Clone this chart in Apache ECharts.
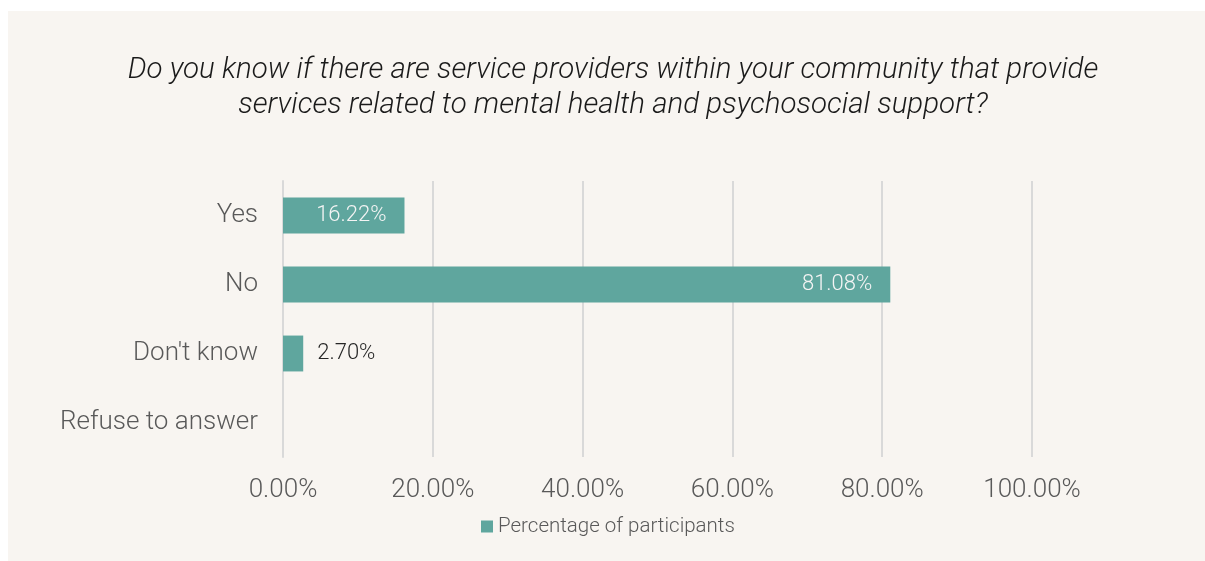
<!DOCTYPE html>
<html>
<head>
<meta charset="utf-8">
<script src="https://cdn.jsdelivr.net/npm/echarts@6/dist/echarts.min.js"></script>
<style>
  html, body { margin: 0; padding: 0; background: #ffffff; }
  #chart { width: 1205px; height: 561px; }
</style>
</head>
<body>
<div id="chart"></div>
<script>
// Survey answers and their share of participants (%)
const categories = ['Yes', 'No', "Don't know", 'Refuse to answer'];
const percentages = [16.22, 81.08, 2.70, 0];
const seriesName = 'Percentage of participants';
const titleLines = [
  'Do you know if there are service providers within your community that provide',
  'services related to mental health and psychosocial support?'
];

const BAR = '#5fa69e';
const FONT = 'Roboto, "Liberation Sans", sans-serif';

// Long bars carry their label inside in light text, short ones outside in dark text
const barData = percentages.map(v => ({
  value: v,
  label: v >= 10
    ? { show: true, position: 'insideRight', distance: 18, color: '#f4f4f4' }
    : { show: v > 0, position: 'right', distance: 14, color: '#262626' }
}));

const chart = echarts.init(document.getElementById('chart'), null, { renderer: 'canvas' });

chart.setOption({
  backgroundColor: '#ffffff',
  animation: false,
  graphic: [{
    type: 'rect',
    z: -10,
    silent: true,
    shape: { x: 8, y: 11, width: 1197, height: 550 },
    style: { fill: '#f8f5f1' }
  }],
  title: {
    text: titleLines.join('\n'),
    left: 608,
    top: 48,
    textAlign: 'center',
    textStyle: {
      fontFamily: FONT,
      fontStyle: 'italic',
      fontWeight: 300,
      fontSize: 29.5,
      lineHeight: 35,
      color: '#1a1a1a'
    }
  },
  legend: {
    bottom: 19,
    left: 476,
    icon: 'rect',
    itemWidth: 12,
    itemHeight: 12,
    textStyle: { fontFamily: FONT, fontWeight: 300, fontSize: 20.5, color: '#595959' },
    data: [seriesName]
  },
  grid: { left: 283, right: 173, top: 181, bottom: 104, containLabel: false },
  xAxis: {
    type: 'value',
    min: 0,
    max: 100,
    interval: 20,
    axisLine: { show: false },
    axisTick: { show: false },
    splitLine: { show: true, lineStyle: { color: '#d9d9d9', width: 2 } },
    axisLabel: {
      margin: 20,
      fontFamily: FONT,
      fontWeight: 300,
      fontSize: 26,
      color: '#595959',
      formatter: v => v.toFixed(2) + '%'
    }
  },
  yAxis: {
    type: 'category',
    inverse: true,
    data: categories,
    axisLine: { show: true, lineStyle: { color: '#d9d9d9', width: 2 } },
    axisTick: { show: false },
    axisLabel: {
      margin: 25,
      fontFamily: FONT,
      fontWeight: 300,
      fontSize: 26,
      color: '#595959'
    }
  },
  series: [{
    name: seriesName,
    type: 'bar',
    barCategoryGap: '48%',
    itemStyle: { color: BAR },
    label: {
      fontFamily: FONT,
      fontWeight: 300,
      fontSize: 22,
      formatter: p => p.value.toFixed(2) + '%'
    },
    data: barData
  }]
});
</script>
</body>
</html>
